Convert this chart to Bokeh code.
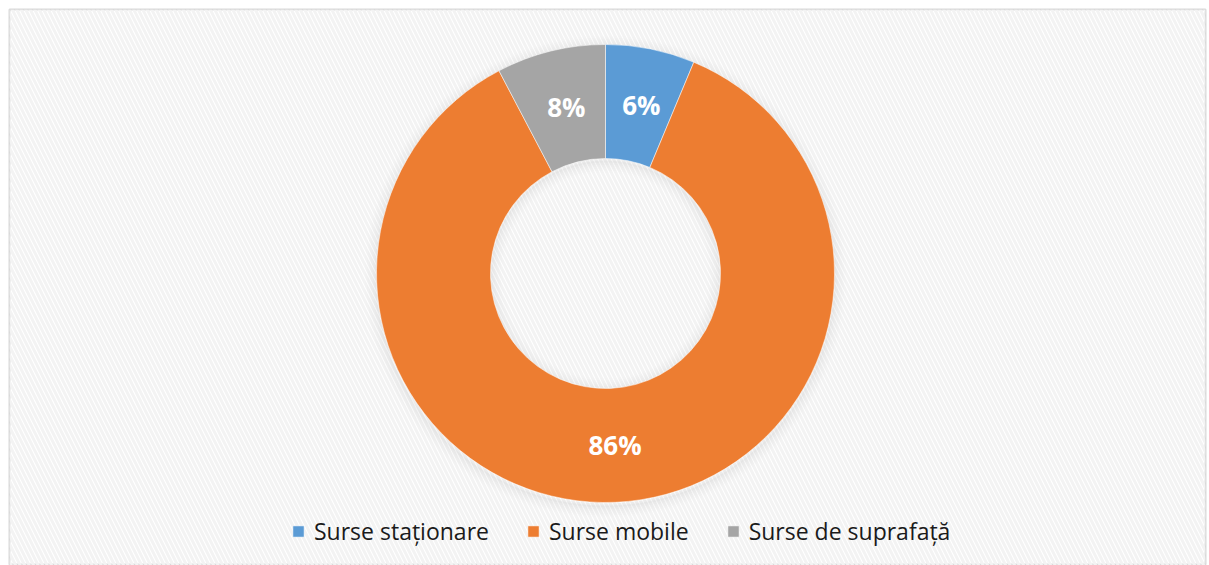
import numpy as np
from bokeh.plotting import figure
from bokeh.models import ColumnDataSource, Range1d, BoxAnnotation, Legend, LegendItem
from bokeh.core.properties import value
from bokeh.embed import file_html
from bokeh.resources import INLINE

categories = ["Surse staționare", "Surse mobile", "Surse de suprafață"]
shares = [6.3, 86.0, 7.7]
labels = ["6%", "86%", "8%"]
colors = ["#5b9bd5", "#ed7d31", "#a5a5a5"]

W, H = 1209, 565
ML, MR, MT, MB = 9, 4, 9, 0
FW, FH = W - ML - MR, H - MT - MB
CX, CY = 596, 292
R_OUT, R_IN = 229, 115

frac = np.array(shares) / sum(shares)
cum_end = np.cumsum(frac)
cum_start = cum_end - frac
start = np.pi / 2 - cum_start * 2 * np.pi
end = np.pi / 2 - cum_end * 2 * np.pi
mid = (start + end) / 2
r_lab = (R_OUT + R_IN) / 2

src = ColumnDataSource(dict(
    cat=categories, start=start, end=end, color=colors,
    lx=CX + r_lab * np.cos(mid) + 2, ly=CY + r_lab * np.sin(mid), lab=labels,
    x=[CX] * 3, y=[CY] * 3,
))

p = figure(width=W, height=H, output_backend="svg", toolbar_location=None,
           x_range=Range1d(0, FW), y_range=Range1d(0, FH),
           min_border_left=ML, min_border_right=MR, min_border_top=MT, min_border_bottom=MB)
p.axis.visible = False
p.grid.visible = False
p.outline_line_color = "#d9d9d9"
p.outline_line_width = 2
p.background_fill_color = "white"
p.border_fill_color = "white"

p.add_layout(BoxAnnotation(fill_alpha=0, line_alpha=0, hatch_pattern="left_diagonal_line",
                           hatch_color="#f3f3f3", hatch_scale=9, hatch_weight=3, level="underlay"))

# soft shadow
for i, a in enumerate([0.06, 0.045, 0.03, 0.02, 0.012, 0.006]):
    p.annulus(x=CX, y=CY - 3, inner_radius=R_OUT - 2 + i * 2, outer_radius=R_OUT + i * 2 + 2,
              fill_color="#707070", fill_alpha=a, line_alpha=0)
    p.annulus(x=CX, y=CY - 2, inner_radius=R_IN - i * 2 - 2, outer_radius=R_IN - i * 2 + 2,
              fill_color="#707070", fill_alpha=a, line_alpha=0)

r = p.annular_wedge(x="x", y="y", inner_radius=R_IN, outer_radius=R_OUT,
                    start_angle="start", end_angle="end", direction="clock",
                    fill_color="color", line_color="white", line_width=0.5, source=src)

p.text(x="lx", y="ly", text="lab", source=src, text_align="center", text_baseline="middle",
       text_color="white", text_font=value("Open Sans"), text_font_style="bold",
       text_font_size="26px")

items = [LegendItem(label=c, renderers=[r], index=i) for i, c in enumerate(categories)]
leg = Legend(items=items, orientation="horizontal", location=(278, 14),
             background_fill_alpha=0, border_line_alpha=0,
             label_text_font="Open Sans", label_text_font_size="23px", label_text_color="#1a1a1a",
             glyph_width=14, glyph_height=14, spacing=37, label_standoff=9, padding=4)
p.add_layout(leg)

open("out.html", "w").write(file_html(p, INLINE))
